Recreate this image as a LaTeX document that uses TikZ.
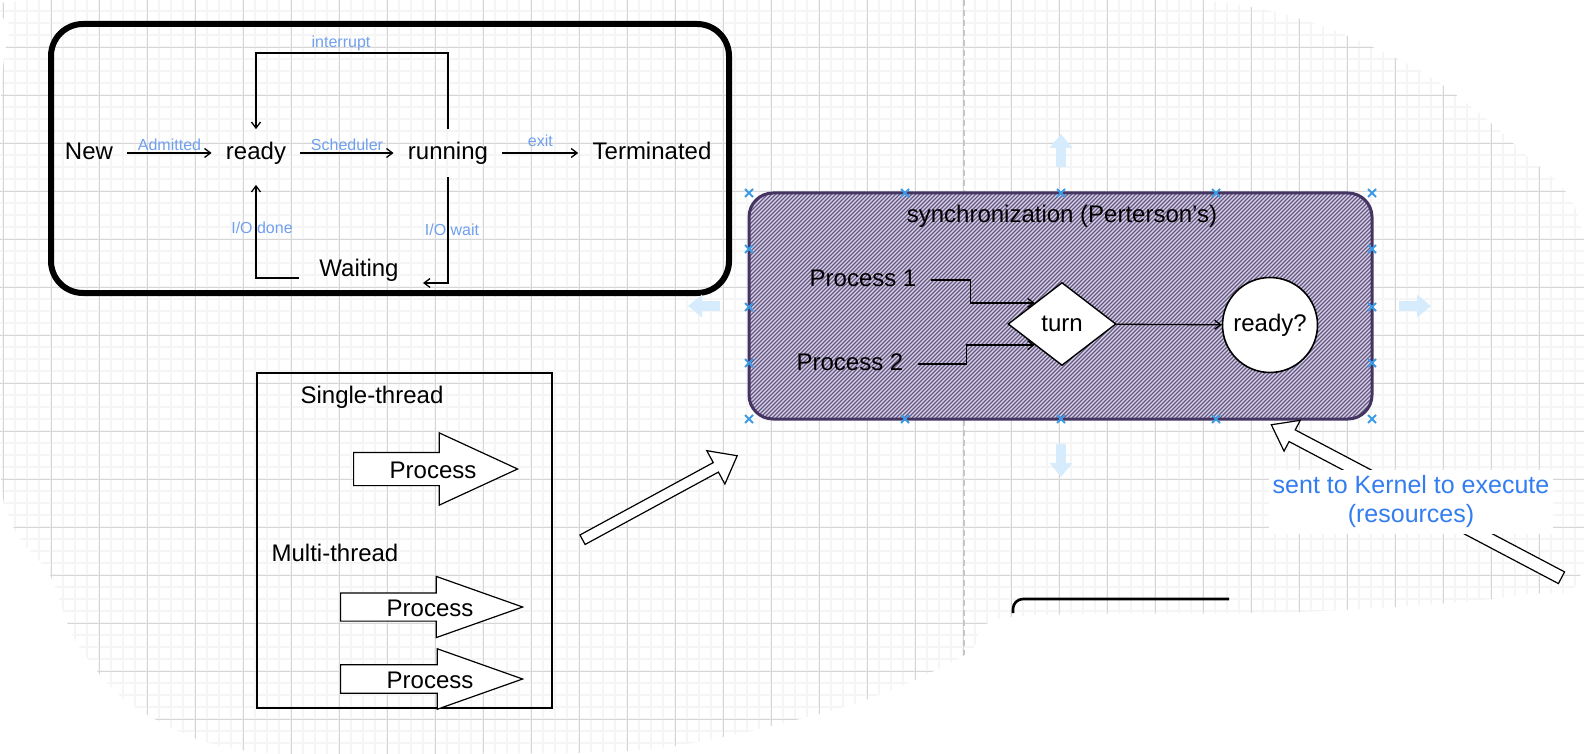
\documentclass[tikz,border=0pt]{standalone}
\usepackage{fontspec}
\setmainfont{Liberation Sans}
\usepackage[fixpdftex,xcdraw]{xcolor}
\usepackage{tikz}
\usetikzlibrary{arrows.meta,shapes.geometric,shapes.arrows}

\definecolor{gridmajor}{RGB}{214,214,214}
\definecolor{gridminor}{RGB}{245,245,245}
\definecolor{lblblue}{RGB}{112,160,238}
\definecolor{kernblue}{RGB}{52,125,240}
\definecolor{syncline}{RGB}{68,52,98}
\definecolor{syncfill}{RGB}{218,213,230}
\definecolor{synchatch}{RGB}{100,85,132}
\definecolor{handleblue}{RGB}{214,235,252}
\definecolor{markblue}{RGB}{60,155,230}

\tikzset{
  state/.style={font=\fontsize{12}{14}\selectfont, text height=9pt, text depth=2.5pt, inner xsep=7pt, inner ysep=6pt},
  lbl/.style={font=\fontsize{8}{9}\selectfont, text=lblblue, inner sep=1pt},
  flow/.style={draw=black, line width=0.65pt, -{Straight Barb[length=3pt,width=4.5pt]}},
  procarrow/.style={single arrow, draw=black, fill=white, line width=0.6pt, anchor=tail, text height=8.6pt, text depth=0pt, inner xsep=0pt},
  handle/.style={draw=handleblue, line width=5pt, -{Triangle[length=7pt,width=11pt]}},
}

\begin{document}
\begin{tikzpicture}[scale=1.000000,x=0.5pt,y=-0.5pt]
\useasboundingbox (0,0) rectangle (1584,754);
\fill[white] (0,0) rectangle (1584,754);
% Drawing grid
\begin{scope}
\clip plot[smooth cycle] coordinates {(40,0) (700,0) (1200,0) (1400,60) (1520,150) (1584,240) (1584,560) (1520,595) (1300,612) (1010,617) (965,655) (850,705) (660,748) (450,754) (280,754) (200,740) (125,700) (75,640) (50,575) (15,530) (0,460) (0,130) (10,30)};
\foreach \gx in {3.3,15.3,...,1584} \draw[gridminor, line width=1pt] (\gx,0) -- (\gx,754);
\foreach \gy in {11.3,23.3,...,754} \draw[gridminor, line width=1pt] (0,\gy) -- (1584,\gy);
\foreach \gx in {3.3,51.3,...,1584} \draw[gridmajor, line width=0.5pt] (\gx,0) -- (\gx,754);
\foreach \gy in {47.3,95.3,...,754} \draw[gridmajor, line width=0.5pt] (0,\gy) -- (1584,\gy);
\end{scope}
\draw[gray!45, line width=0.6pt, dash pattern=on 3pt off 2pt] (964,0) -- (964,655);
% Done with grid; drawing state box
\draw[line width=3pt, rounded corners=16pt] (51,24) rectangle (729,293);
\node[state] (new) at (89,153) {New};
\node[state] (ready) at (256,153) {ready};
\node[state] (running) at (448,153) {running};
\node[state] (term) at (652,153) {Terminated};
\node[state] (waiting) at (359,270) {Waiting};
\coordinate (irq) at (341,53);
\coordinate (wt) at (423,283);
\coordinate (wd) at (299,278);
% Line 1: new -> ready -> running -> term
\draw[flow] (new) -- node[lbl,above] {Admitted} (ready);
\draw[flow] (ready) -- node[lbl,above] {Scheduler} (running);
\draw[flow] (running) -- node[lbl,above=2pt] {exit} (term);
% Line 2: running back to ready
\draw[flow] (running.north) |- (irq) node[lbl,above] {interrupt} -| (ready.north);
% Line 3: running -> waiting -> ready
\draw[flow] (running.south) |- node[lbl,pos=0.25,xshift=2pt] {I/O wait} (wt);
\draw[flow, shorten >=4pt] (wd) -| node[lbl,pos=0.75,xshift=3pt] {I/O done} (ready.south);
% Done with state box; drawing thread box
\draw[line width=0.65pt] (257,373) rectangle (552,708);
\node[state] (single) at (372,397) {Single-thread};
\node[state] (multi) at (335,555) {Multi-thread};
\node[procarrow, minimum height=82pt, inner ysep=3.7pt, single arrow head extend=9.75pt, single arrow tip angle=49.5] (proc1) at (353,469) {};
\node[procarrow, minimum height=91pt, inner ysep=2.45pt, single arrow head extend=8.25pt, single arrow tip angle=39] (proc2) at (340,607) {};
\node[procarrow, minimum height=91pt, inner ysep=2.5pt, single arrow head extend=8pt, single arrow tip angle=39] (proc3) at (340,679) {};
\node[state] (proc1txt) at (433,472) {Process};
\node[state] (proc2txt) at (430,610) {Process};
\node[state] (proc3txt) at (430,682) {Process};
\node[procarrow, minimum height=88pt, text height=0pt, inner ysep=2.4pt, single arrow head extend=6.8pt, single arrow tip angle=76, rotate=28.5] (jump) at (582,540) {};
% Done with thread box; drawing synchronization box
\begin{scope}
\clip[rounded corners=12pt] (749,193) rectangle (1372,419);
\fill[syncfill] (749,193) rectangle (1372,419);
\foreach \hx in {523,527,...,1372} \draw[synchatch, line width=0.65pt] (\hx,419) -- ++(226,-226);
\end{scope}
\draw[syncline, line width=1.5pt, rounded corners=12pt] (749,193) rectangle (1372,419);
\foreach \mx/\my in {749/193,905/193,1061/193,1216/193,1372/193,749/419,905/419,1061/419,1216/419,1372/419,749/249,749/307,749/363,1372/249,1372/307,1372/363}
  \draw[markblue, line width=1pt] (\mx-4,\my-4) -- (\mx+4,\my+4) (\mx-4,\my+4) -- (\mx+4,\my-4);
\node[state] (title) at (1062,216) {synchronization (Perterson's)};
\node[state] (p1) at (863,280) {Process 1};
\node[state] (p2) at (850,364) {Process 2};
\node[diamond, draw=black, fill=white, line width=0.7pt, aspect=1.3, inner sep=0pt, minimum width=54pt, minimum height=41.5pt, font=\fontsize{12}{14}\selectfont] (turn) at (1062,324) {turn};
\node[circle, draw=black, fill=white, line width=0.8pt, inner sep=0pt, minimum size=47.5pt, font=\fontsize{12}{14}\selectfont] (rdy) at (1270,325) {ready?};
\draw[flow] (p1.east) -- ++(40,0) |- (turn.north west);
\draw[flow] (p2.east) -- ++(49,0) |- (turn.south west);
\draw[flow] (turn) -- (rdy);
% Done with synchronization box; drawing handles and kernel note
\draw[handle] (1061,167) -- (1061,134);
\draw[handle] (1061,444) -- (1061,477);
\draw[handle] (720,306) -- (688,306);
\draw[handle] (1399,306) -- (1431,306);
\node[procarrow, minimum height=164pt, text height=0pt, inner ysep=3pt, single arrow head extend=5.4pt, single arrow tip angle=73, rotate=152.2] (kernarrow) at (1562,578) {};
\node[fill=white, inner xsep=2pt, inner ysep=3pt, align=center, text=kernblue, font=\fontsize{12.5}{14.5}\selectfont] (kern) at (1411,502) {sent to Kernel to execute\\(resources)};
\draw[line width=1.3pt, rounded corners=5pt] (1013,613) |- (1229,599);
% Done with kernel note
\end{tikzpicture}
\end{document}
